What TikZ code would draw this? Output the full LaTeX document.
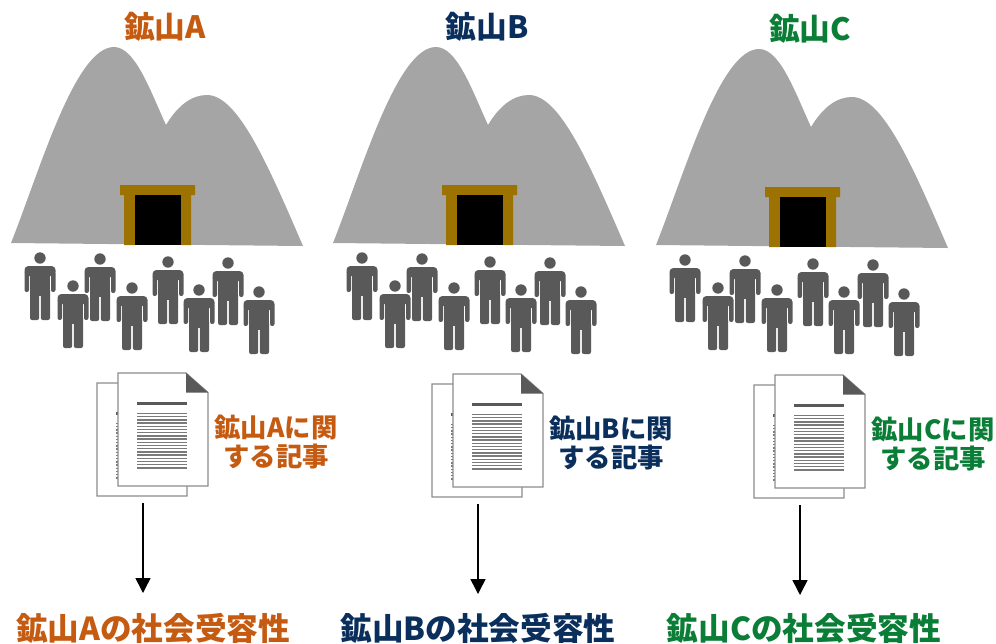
\documentclass[tikz,border=0pt]{standalone}
\usepackage{fontspec}
\setmainfont{Noto Sans CJK JP}
\usetikzlibrary{arrows.meta}

\definecolor{oreA}{HTML}{C55A11}
\definecolor{oreB}{HTML}{0B2F5C}
\definecolor{oreC}{HTML}{0A7D36}
\definecolor{hillgray}{HTML}{A5A5A5}
\definecolor{doorbrown}{HTML}{9C7200}
\definecolor{mangray}{HTML}{595959}
\definecolor{pageline}{HTML}{8C8C8C}
\definecolor{rulegray}{HTML}{7A7A7A}

\tikzset{
  title/.style={font=\bfseries\fontsize{17.5}{20}\selectfont, inner sep=0pt},
  doctext/.style={font=\bfseries\fontsize{15}{16.5}\selectfont, align=center, inner sep=0pt},
  result/.style={font=\bfseries\fontsize{18}{20}\selectfont, inner sep=0pt},
  arr/.style={-{Triangle[width=8.5pt,length=8.5pt]}, line width=0.85pt},
  % one worker, head centre at the origin
  man/.pic={
    \fill[mangray] (0,0) circle [radius=5.7];
    \fill[mangray, rounded corners=2.2pt] (-15.5,8) rectangle (15.5,18);
    \fill[mangray, rounded corners=1.2pt] (-15.5,13) rectangle (-11,34);
    \fill[mangray, rounded corners=1.2pt] (11,13) rectangle (15.5,34);
    \fill[mangray] (-10,13) rectangle (10,38);
    \fill[mangray, rounded corners=1.2pt] (-10,30) rectangle (-0.8,62);
    \fill[mangray, rounded corners=1.2pt] (0.8,30) rectangle (10,62);
  },
  % one sheet of paper, top left corner at the origin
  sheet/.pic={
    \filldraw[fill=white, draw=pageline, line width=0.7pt]
      (0,0) -- (68,0) -- (90,19.5) -- (90,113) -- (0,113) -- cycle;
    \fill[mangray] (68,0) -- (90,19.5) -- (68,19.5) -- cycle;
    \draw[mangray, line width=1.9pt] (19,30.5) -- (69,30.5);
    \foreach \k in {0,...,17}
      \draw[rulegray, line width=0.75pt] (19,40.5+3.2*\k) -- (69,40.5+3.2*\k);
  }
}

\begin{document}
\begin{tikzpicture}[x=0.02cm, y=-0.02cm]
  \useasboundingbox (0,0) rectangle (996,643);

  \foreach \m/\col/\dx/\dy/\ddx/\ddy/\lx in
    {A/oreA/0/0/0/0/153, B/oreB/322/0/335/1/478, C/oreC/645/2/657/2/804}{
    % mountain, mine entrance, workers
    \begin{scope}[shift={(\dx,\dy)}]
      \fill[hillgray] (11,243) .. controls (40,170) and (75,47) .. (114,47)
        .. controls (135,47) and (150,90) .. (166,125)
        .. controls (178,105) and (192,95) .. (207,95)
        .. controls (238,95) and (268,165) .. (303,246) -- cycle;
      \fill[doorbrown] (120,185) rectangle (195,195)
        (124,195) rectangle (135,245) (181,195) rectangle (191,245);
      \fill[black] (135,195) rectangle (181,245);
      \node[title, text=\col] (title\m) at (165,27) {鉱山\m};
      \foreach \x/\y in {40/258, 73/286, 100/259, 132/288, 168/262, 199/290, 228/263, 259/292}
        \pic at (\x,\y) {man};
    \end{scope}
    % articles
    \begin{scope}[shift={(\ddx,\ddy)}]
      \pic at (97,383) {sheet};
      \pic at (118,373) {sheet};
      \node[doctext, text=\col] (note\m) at (276,442.5) {鉱山\m に関\\する記事};
      \coordinate (from\m) at (143,503);
      \coordinate (to\m) at (143,593);
    \end{scope}
    \node[result, text=\col] (accept\m) at (\lx,628) {鉱山\m の社会受容性};
    \draw[arr] (from\m) -- (to\m);
  }
\end{tikzpicture}
\end{document}
